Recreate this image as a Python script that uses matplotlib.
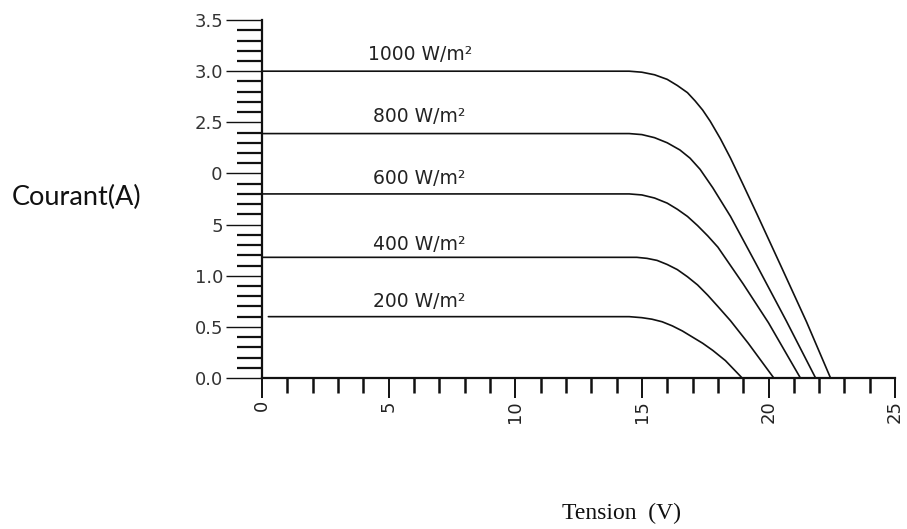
import matplotlib
matplotlib.use("Agg")
import matplotlib.pyplot as plt
from matplotlib.patches import Rectangle
from matplotlib.ticker import MultipleLocator, FormatStrFormatter

# --- I-V curves (tension V, courant A) ---
irradiance = ["1000 W/m²", "800 W/m²", "600 W/m²", "400 W/m²", "200 W/m²"]

v_1000 = [0.0, 14.5, 15.0, 15.5, 16.0, 16.4, 16.8, 17.1, 17.4, 17.7, 18.1, 18.5,
          19.0, 19.55, 20.5, 21.5, 22.45]
i_1000 = [3.0, 3.0, 2.99, 2.965, 2.92, 2.86, 2.79, 2.71, 2.62, 2.51, 2.34, 2.15,
          1.89, 1.60, 1.09, 0.55, 0.0]

v_800 = [0.0, 14.5, 15.0, 15.5, 16.0, 16.5, 16.9, 17.3, 17.8, 18.5, 19.5, 20.7, 21.86]
i_800 = [2.39, 2.39, 2.38, 2.35, 2.30, 2.23, 2.15, 2.04, 1.86, 1.58, 1.12, 0.56, 0.0]

v_600 = [0.0, 14.5, 15.0, 15.5, 16.0, 16.4, 16.8, 17.2, 17.6, 18.0, 18.5, 19.0, 20.0, 21.26]
i_600 = [1.80, 1.80, 1.79, 1.76, 1.71, 1.65, 1.58, 1.49, 1.39, 1.28, 1.10, 0.92, 0.54, 0.0]

v_400 = [0.0, 14.8, 15.2, 15.6, 16.0, 16.4, 16.8, 17.2, 17.6, 18.0, 18.5, 19.2, 20.21]
i_400 = [1.18, 1.18, 1.17, 1.15, 1.11, 1.06, 0.99, 0.91, 0.81, 0.70, 0.56, 0.34, 0.0]

v_200 = [0.25, 14.5, 15.0, 15.4, 15.8, 16.2, 16.6, 17.0, 17.4, 17.8, 18.3, 18.96]
i_200 = [0.60, 0.60, 0.59, 0.575, 0.55, 0.51, 0.46, 0.40, 0.34, 0.27, 0.17, 0.0]

# label anchor (left, baseline) for each curve
label_v = [4.2, 4.4, 4.4, 4.4, 4.4]
label_i = [3.11, 2.505, 1.90, 1.25, 0.694]

curves = [(v_1000, i_1000), (v_800, i_800), (v_600, i_600), (v_400, i_400), (v_200, i_200)]

fig = plt.figure(figsize=(9.07, 5.29), dpi=100)
ax = fig.add_axes([0.2889, 0.2854, 0.698, 0.6767])

for (v, i) in curves:
    ax.plot(v, i, color="#111111", lw=1.2, solid_capstyle="round",
            solid_joinstyle="round")

for txt, x, y in zip(irradiance, label_v, label_i):
    ax.text(x, y, txt, fontsize=13.5, color="#222222", ha="left", va="baseline",
            family="DejaVu Sans")

ax.set_xlim(0, 25)
ax.set_ylim(0, 3.5)
ax.spines["top"].set_visible(False)
ax.spines["right"].set_visible(False)
for side in ["left", "bottom"]:
    ax.spines[side].set_linewidth(1.6)
    ax.spines[side].set_color("#111111")

ax.xaxis.set_major_locator(MultipleLocator(5))
ax.xaxis.set_minor_locator(MultipleLocator(1))
ax.yaxis.set_major_locator(MultipleLocator(0.5))
ax.yaxis.set_minor_locator(MultipleLocator(0.1))
ax.yaxis.set_major_formatter(FormatStrFormatter("%.1f"))

ax.tick_params(axis="x", which="major", direction="out", length=14.5, width=1.4,
               pad=1.5, labelsize=13, labelcolor="#222222", color="#111111",
               labelrotation=90)
ax.tick_params(axis="x", which="minor", direction="out", length=11, width=1.8,
               color="#111111")
ax.tick_params(axis="y", which="major", direction="out", length=26, width=1.0,
               pad=2, labelsize=13, labelcolor="#333333", color="#111111")
ax.tick_params(axis="y", which="minor", direction="out", length=18, width=1.6,
               color="#111111")

# white text box of the y label that hides part of the tick labels
box = Rectangle((0, 0.537), 211 / 907, 0.151, transform=fig.transFigure,
                facecolor="white", edgecolor="none", zorder=5)
fig.patches.append(box)

fig.text(12 / 907, 0.6125, "Courant(A)", fontsize=19.5, family="Lato",
         ha="left", va="baseline", color="#111111", zorder=6)
fig.text(622 / 907, 0.019, "Tension  (V)", fontsize=17, family="Liberation Serif",
         ha="center", va="baseline", color="#111111")

fig.savefig("out.png", dpi=100)
